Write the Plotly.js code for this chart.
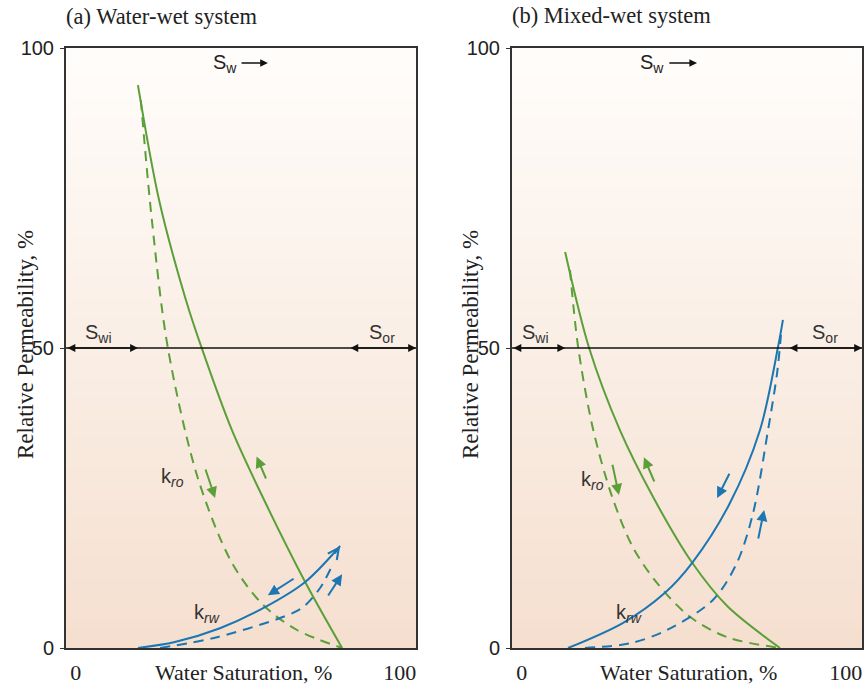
<!DOCTYPE html>
<html>
<head>
<meta charset="utf-8">
<script src="https://cdn.plot.ly/plotly-3.0.1.min.js"></script>
<style>html,body{margin:0;padding:0;background:#fff;}#chart{width:864px;height:688px;}</style>
</head>
<body>
<div id="chart"></div>
<script>
// ---------- DATA ----------
const panelTitles = ["(a) Water-wet system", "(b) Mixed-wet system"];
const xTickVals = [0, 100];
const xTickText = ["0", "100"];
const yTickVals = [0, 50, 100];
const yTickText = ["0", "50", "100"];
const refLevel = 50;               // Swi / Sor reference line level

// (a) Water-wet system
const a_kroSolidX = [19.2, 25.7, 34.0, 39.0, 48.2, 58.1, 70.8, 82.2];
const a_kroSolidY = [93.8, 74.7, 58.0, 49.8, 36.3, 24.7, 11.0, 0];
const a_kroDashX  = [20.1, 23.5, 28.5, 37.7, 48.2, 57.8, 68.3, 82.2];
const a_kroDashY  = [91.3, 71.3, 49.8, 28.3, 14.2, 7.2, 3.0, 0];
const a_krwSolidX = [19.2, 30.6, 44.5, 58.4, 70.8, 81.6];
const a_krwSolidY = [0, 1.0, 3.3, 6.8, 11.0, 17.0];
const a_krwDashX  = [26.0, 43.6, 64.6, 70.1, 75.4, 79.1];
const a_krwDashY  = [0, 1.8, 5.3, 6.8, 10.0, 13.7];
const a_swi = 19.2, a_sor = 84.3;

// (b) Mixed-wet system
const b_kroSolidX = [13.4, 20.8, 30.3, 40.5, 52.6, 63.4, 79.7];
const b_kroSolidY = [66.0, 50.0, 36.3, 25.2, 14.2, 7.0, 0];
const b_kroDashX  = [14.9, 17.4, 22.0, 27.9, 34.3, 41.8, 51.9, 63.4, 79.7];
const b_kroDashY  = [63.0, 50.2, 36.5, 25.2, 16.8, 10.8, 5.2, 1.8, 0];
const b_krwSolidX = [14.3, 31.3, 44.2, 52.6, 63.9, 73.5, 79.1, 80.6];
const b_krwSolidY = [0, 4.2, 9.2, 14.2, 23.8, 36.3, 50.2, 54.7];
const b_krwDashX  = [19.5, 33.6, 44.8, 59.0, 66.4, 71.4, 76.0, 78.8, 80.0];
const b_krwDashY  = [0, 0.8, 3.0, 8.0, 14.2, 22.5, 36.3, 45.8, 52.2];
const b_swi = 13.4, b_sor = 82.2;

// ---------- STYLE ----------
const GREEN = '#5b9f38', BLUE = '#1b76b2';
const SERIF = '"Liberation Serif", "Times New Roman", serif';
const SANS = '"Liberation Sans", Arial, sans-serif';
const XR = [-3, 105], YR = [0, 100];
const W = 864, H = 688, MT = 48, MB = 40;
const px = function (x) { return x / W; };
const py = function (y) { return (H - MB - y) / (H - MT - MB); };

function curve(x, y, color, dashed, xa, ya) {
  return {x: x, y: y, xaxis: xa, yaxis: ya, type: 'scatter', mode: 'lines',
    line: {color: color, width: 2, shape: 'spline', smoothing: 0.9, dash: dashed ? '10px,7px' : 'solid'},
    hoverinfo: 'skip', showlegend: false};
}

const traces = [
  curve(a_kroSolidX, a_kroSolidY, GREEN, false, 'x', 'y'),
  curve(a_kroDashX, a_kroDashY, GREEN, true, 'x', 'y'),
  curve(a_krwSolidX, a_krwSolidY, BLUE, false, 'x', 'y'),
  curve(a_krwDashX, a_krwDashY, BLUE, true, 'x', 'y'),
  curve(b_kroSolidX, b_kroSolidY, GREEN, false, 'x2', 'y2'),
  curve(b_kroDashX, b_kroDashY, GREEN, true, 'x2', 'y2'),
  curve(b_krwSolidX, b_krwSolidY, BLUE, false, 'x2', 'y2'),
  curve(b_krwDashX, b_krwDashY, BLUE, true, 'x2', 'y2'),
  // reference line at 50
  {x: XR, y: [refLevel, refLevel], xaxis: 'x', yaxis: 'y', mode: 'lines', line: {color: '#111', width: 1.3}, hoverinfo: 'skip', showlegend: false},
  {x: XR, y: [refLevel, refLevel], xaxis: 'x2', yaxis: 'y2', mode: 'lines', line: {color: '#111', width: 1.3}, hoverinfo: 'skip', showlegend: false}
];

// gradient background bands
const shapes = [];
const N = 60;
const colTop = [255, 253, 251], colBot = [245, 223, 207];
['x', 'x2'].forEach(function (xa) {
  const ya = xa === 'x' ? 'y' : 'y2';
  for (let i = 0; i < N; i++) {
    const t = (i + 0.5) / N; // 0 bottom -> 1 top
    const c = colBot.map(function (b, k) { return Math.round(b + (colTop[k] - b) * t); });
    shapes.push({type: 'rect', xref: xa + ' domain', yref: ya + ' domain', x0: 0, x1: 1,
      y0: i / N, y1: Math.min(1, (i + 1) / N + 0.002), fillcolor: 'rgb(' + c.join(',') + ')', line: {width: 0}, layer: 'below'});
  }
});

function arrow(xr, yr, x, y, ax, ay, color, head, opts) {
  return Object.assign({xref: xr, yref: yr, axref: xr, ayref: yr, x: x, y: y, ax: ax, ay: ay,
    text: '', showarrow: true, arrowhead: head, arrowsize: 1.1, arrowwidth: 1.8, arrowcolor: color}, opts || {});
}
function label(xr, yr, x, y, text, size, font, color, opts) {
  return Object.assign({xref: xr, yref: yr, x: x, y: y, text: text, showarrow: false, xanchor: 'center',
    font: {family: font, size: size, color: color}}, opts || {});
}

const ann = [];
// panel titles
ann.push(label('paper', 'paper', px(64), py(17), panelTitles[0], 22.5, SERIF, '#222', {xanchor: 'left', yanchor: 'middle'}));
ann.push(label('paper', 'paper', px(510), py(15), panelTitles[1], 22.5, SERIF, '#222', {xanchor: 'left', yanchor: 'middle'}));
// axis titles
ann.push(label('paper', 'paper', px(243), py(672), 'Water Saturation, %', 22, SERIF, '#222', {yanchor: 'middle'}));
ann.push(label('paper', 'paper', px(688), py(672), 'Water Saturation, %', 22, SERIF, '#222', {yanchor: 'middle'}));
ann.push(label('paper', 'paper', px(25), py(345), 'Relative Permeability, %', 23, SERIF, '#222', {textangle: -90, yanchor: 'middle'}));
ann.push(label('paper', 'paper', px(470), py(345), 'Relative Permeability, %', 23, SERIF, '#222', {textangle: -90, yanchor: 'middle'}));

// panel-specific annotations
[
  {xr: 'x', yr: 'y', swi: a_swi, sor: a_sor, swX: 46, swA0: 50.7, swA1: 59.3,
   kro: [34.0, 28.5], krw: [40.5, 5.8],
   g: [[55.8, 31.9, 58.9, 28], [43, 25, 39.9, 30]],
   b: [[59.3, 8.8, 67.7, 11.7], [82.2, 12.3, 77.6, 8.5]], endArrow: [81.6, 17, 79.6, 15.5]},
  {xr: 'x2', yr: 'y2', swi: b_swi, sor: b_sor, swX: 40.2, swA0: 45.1, swA1: 54.1,
   kro: [26.0, 28], krw: [33, 5.8],
   g: [[37.7, 31.8, 41.1, 27.5], [30, 25.5, 27.9, 30.8]],
   b: [[60.3, 25, 64.3, 29.3], [74.8, 23, 72.9, 18]], endArrow: null}
].forEach(function (p) {
  // Swi and Sor double arrows
  ann.push(arrow(p.xr, p.yr, p.swi, refLevel, XR[0], refLevel, '#111', 2, {arrowside: 'end+start', startarrowhead: 2, arrowwidth: 1.3, arrowsize: 1.2, startarrowsize: 1.2}));
  ann.push(arrow(p.xr, p.yr, XR[1], refLevel, p.sor, refLevel, '#111', 2, {arrowside: 'end+start', startarrowhead: 2, arrowwidth: 1.3, arrowsize: 1.2, startarrowsize: 1.2}));
  ann.push(label(p.xr, p.yr, (XR[0] + p.swi) / 2 - 1, refLevel, 'S<sub>wi</sub>', 20, SANS, '#333', {yanchor: 'bottom'}));
  ann.push(label(p.xr, p.yr, (XR[1] + p.sor) / 2, refLevel, 'S<sub>or</sub>', 20, SANS, '#333', {yanchor: 'bottom'}));
  // Sw arrow
  ann.push(label(p.xr, p.yr, p.swX, 97.4, 'S<sub>w</sub>', 20, SANS, '#222', {yanchor: 'middle'}));
  ann.push(arrow(p.xr, p.yr, p.swA1, 97.5, p.swA0, 97.5, '#111', 2, {arrowwidth: 1.4, arrowsize: 1.1}));
  // kro / krw labels
  ann.push(label(p.xr, p.yr, p.kro[0], p.kro[1], 'k<sub><i>ro</i></sub>', 20, SANS, '#333', {xanchor: 'right', yanchor: 'middle'}));
  ann.push(label(p.xr, p.yr, p.krw[0], p.krw[1], 'k<sub><i>rw</i></sub>', 20, SANS, '#333', {yanchor: 'middle'}));
  // direction arrows
  p.g.forEach(function (a) { ann.push(arrow(p.xr, p.yr, a[0], a[1], a[2], a[3], GREEN, 2, {arrowwidth: 2, arrowsize: 1.1})); });
  p.b.forEach(function (a) { ann.push(arrow(p.xr, p.yr, a[0], a[1], a[2], a[3], BLUE, 2, {arrowwidth: 2, arrowsize: 1.1})); });
  if (p.endArrow) ann.push(arrow(p.xr, p.yr, p.endArrow[0], p.endArrow[1], p.endArrow[2], p.endArrow[3], BLUE, 5, {arrowwidth: 1.8, arrowsize: 1.2}));
});

function xaxis(domain, anchor) {
  return {domain: domain, anchor: anchor, range: XR, tickmode: 'array', tickvals: xTickVals, ticktext: xTickText,
    ticks: '', showgrid: false, zeroline: false, showline: true, mirror: true, linecolor: '#333', linewidth: 2,
    tickfont: {family: SERIF, size: 22, color: '#222'}, ticklabelstandoff: 4, fixedrange: true};
}
function yaxis(anchor) {
  return {domain: [0, 1], anchor: anchor, range: YR, tickmode: 'array', tickvals: yTickVals, ticktext: yTickText,
    ticks: 'outside', ticklen: 4, tickcolor: '#333', showgrid: false, zeroline: false, showline: true, mirror: true,
    linecolor: '#333', linewidth: 2, tickfont: {family: SANS, size: 20, color: '#222'}, ticklabelstandoff: 2, fixedrange: true};
}

const layout = {
  width: W, height: H,
  margin: {l: 0, r: 0, t: MT, b: MB, pad: 0},
  paper_bgcolor: '#ffffff', plot_bgcolor: 'rgba(0,0,0,0)',
  showlegend: false,
  xaxis: xaxis([66 / W, 416 / W], 'y'),
  yaxis: yaxis('x'),
  xaxis2: xaxis([512 / W, 862 / W], 'y2'),
  yaxis2: yaxis('x2'),
  shapes: shapes,
  annotations: ann
};

Plotly.newPlot('chart', traces, layout, {staticPlot: true, displayModeBar: false});
</script>
</body>
</html>
